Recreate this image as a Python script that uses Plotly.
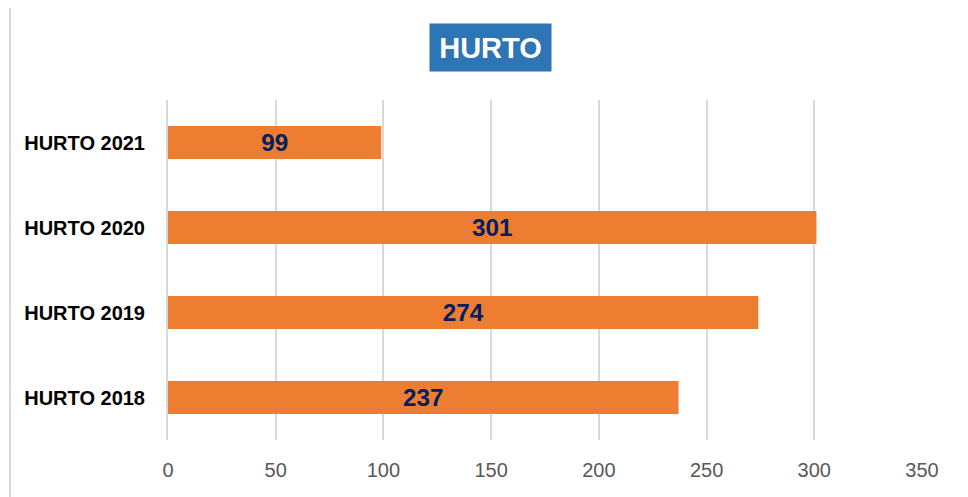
import plotly.graph_objects as go

categories = ['HURTO 2018', 'HURTO 2019', 'HURTO 2020', 'HURTO 2021']
values = [237, 274, 301, 99]
x_ticks = [0, 50, 100, 150, 200, 250, 300, 350]

fig = go.Figure()

fig.add_trace(go.Bar(
    y=categories,
    x=values,
    orientation='h',
    marker=dict(color='#ED7D31', line=dict(width=0)),
    text=[str(v) for v in values],
    textposition='inside',
    insidetextanchor='middle',
    textangle=0,
    textfont=dict(family='Liberation Sans, Arial', size=25, color='#002060', weight='bold'),
    hoverinfo='skip',
))

# the page body adds an 8px offset, so margins are shifted by 8
fig.update_layout(
    width=968,
    height=497,
    paper_bgcolor='white',
    plot_bgcolor='white',
    margin=dict(l=160, r=54, t=92, b=65),
    bargap=0.61,
    showlegend=False,
    xaxis=dict(
        range=[0, 350],
        tickvals=x_ticks,
        showgrid=True,
        gridcolor='#d9d9d9',
        gridwidth=2,
        zeroline=False,
        showline=False,
        automargin=False,
        ticklabelstandoff=16,
        tickfont=dict(family='Liberation Sans, Arial', size=20, color='#595959'),
    ),
    yaxis=dict(
        range=[-0.5, 3.5],
        showgrid=False,
        zeroline=False,
        showline=True,
        linecolor='#d9d9d9',
        linewidth=2,
        automargin=False,
        ticklabelstandoff=17,
        tickfont=dict(family='Liberation Sans, Arial', size=20, color='black', weight='bold'),
    ),
)

# title box
fig.add_annotation(
    x=(490 - 168) / 754, y=(440 - 47.5) / 340,
    xref='paper', yref='paper',
    xanchor='center', yanchor='middle',
    text='HURTO',
    showarrow=False,
    font=dict(family='Liberation Sans, Arial', size=29, color='white', weight='bold'),
    bgcolor='#2E75B6',
    width=121, height=47,
    borderpad=0,
    align='center', valign='middle',
)

# chart border (left and top edge visible)
fig.add_shape(type='line', xref='paper', yref='paper',
              x0=(10 - 168) / 754, x1=1.2, y0=(440 - 7) / 340, y1=(440 - 7) / 340,
              line=dict(color='#d9d9d9', width=2))
fig.add_shape(type='line', xref='paper', yref='paper',
              x0=(10 - 168) / 754, x1=(10 - 168) / 754, y0=(440 - 7) / 340, y1=-0.3,
              line=dict(color='#d9d9d9', width=2))

fig.write_html("out.html")
